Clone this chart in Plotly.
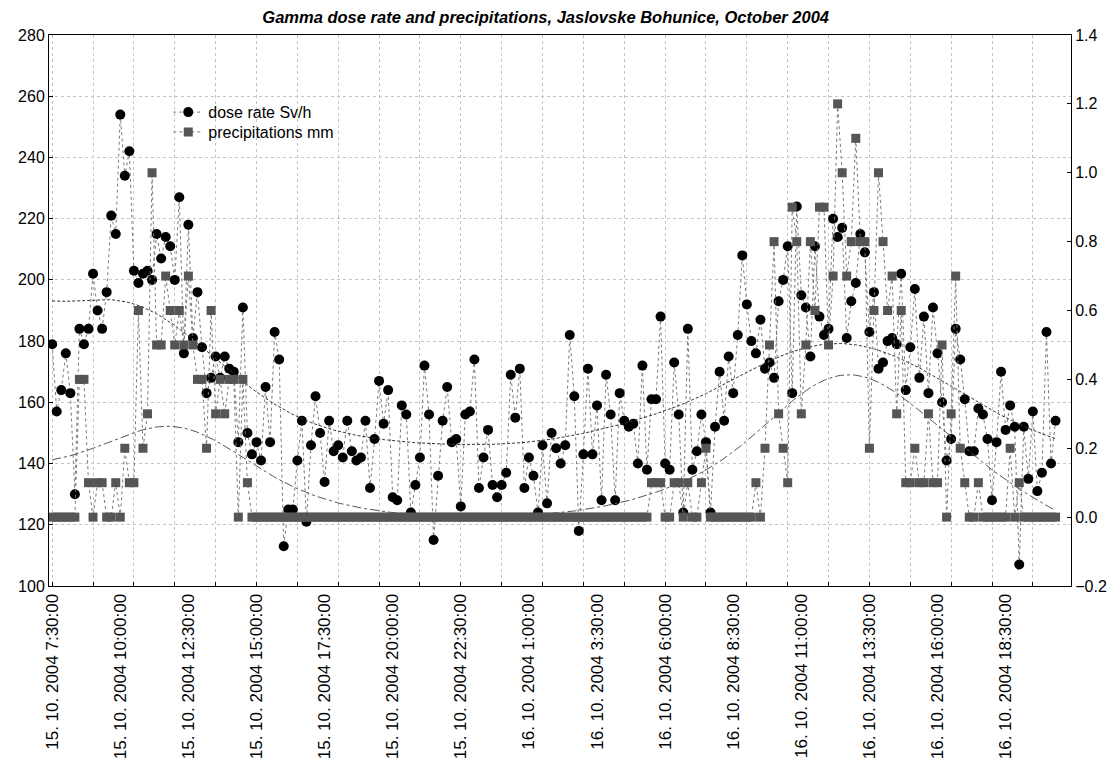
import numpy as np
import pandas as pd
import plotly.graph_objects as go

# ---------------- data (10-minute readings from 15.10.2004 7:30) ----------------
dose = [179,157,164,176,163,130,184,179,184,202,190,184,196,221,215,254,234,242,203,199,
        202,203,200,215,207,214,211,200,227,176,218,181,196,
        178,163,168,175,168,175,171,170,147,191,150,143,147,141,165,147,183,174,113,125,
        125,141,154,121,146,162,150,134,154,144,146,142,154,144,141,142,154,132,
        148,167,153,164,129,128,159,156,124,133,142,172,156,115,136,154,165,147,148,126,
        156,157,174,132,142,151,133,129,133,137,169,155,171,132,142,
        136,124,146,127,150,145,140,146,182,162,118,143,171,143,159,128,169,156,128,163,
        154,152,153,140,172,138,161,161,188,140,138,173,156,124,184,
        138,144,156,147,124,152,170,154,175,163,182,208,192,180,176,187,171,173,168,193,
        200,211,163,224,195,191,175,211,188,182,184,220,214,217,
        181,193,199,215,209,183,196,171,173,180,181,179,202,164,178,197,168,188,163,191,
        176,160,141,148,184,174,161,144,144,158,156,148,128,147,170,151,159,
        152,107,152,135,157,131,137,183,140,154]

precip_a = [0,0,0,0,0,0, 0.4,0.4, 0.1,0,0.1,0.1,0,0,0.1,0,
            0.2,0.1,0.1,0.6,0.2,0.3,1.0,0.5,0.5,0.7,
            0.6,0.5,0.6,0.5,0.7,0.5,0.4,0.4,0.2,0.6,
            0.3,0.4,0.3,0.4,0.4,0.0,0.4,0.1]
precip_b = [0.0] * 88
precip_c = [0.1,0.1,0.1,0,0,0.1,0.1,0,0.1,0,0,0.1,0.2,
            0,0,0,0,0,0,0,0,0,0,
            0.1,0,0.2,0.5,0.8,0.3,0.2,0.1,0.9,0.8,
            0.3,0.5,0.8,0.6,0.9,0.9,0.5,0.7,1.2,1.0,
            0.7,0.8,1.1,0.8,0.8,0.2,0.6,1.0,0.8,0.6,
            0.7,0.3,0.6,
            0.1,0.1,0.2,0.1,0.1,0.3,0.1,0.1,0.5,0.0,
            0.3,0.7,0.2,0.1,0,0,0.1,0,0,0,
            0,0,0,0.2,0,0.1,0,0,0,0,
            0,0,0,0]
precip = precip_a + precip_b + precip_c

start = pd.Timestamp("2004-10-15 07:30:00")
step = pd.Timedelta(minutes=10)
times = pd.date_range(start, periods=len(dose), freq="10min")

label_times = [start + pd.Timedelta(minutes=150) * k for k in range(15)]
label_text = [f"{t.day}. {t.month}. {t.year} {t.hour}:{t.minute:02d}:00" for t in label_times]

title = "Gamma dose rate and precipitations, Jaslovske Bohunice, October 2004"


def dwls(y, xe, scale=20.0):
    """distance-weighted least squares (local quadratic) smoothing of the data"""
    x = np.arange(len(y), dtype=float)
    y = np.asarray(y, float)
    out = []
    for x0 in xe:
        w = 1.0 / (1.0 + ((x - x0) / scale) ** 2)
        c = np.polyfit(x - x0, y, 2, w=np.sqrt(w))
        out.append(c[-1])
    return np.array(out)


fine = np.linspace(0, len(dose) - 1, 300)
fine_t = [start + step * f for f in fine]
dose_fit = dwls(dose, fine)
prec_fit = dwls(precip, fine)

x_range = [start - pd.Timedelta(minutes=7), times[-1] + pd.Timedelta(minutes=34)]

FONT = "Liberation Sans, Arial, sans-serif"
GRID = "#c4c4c4"

fig = go.Figure()
fig.add_trace(go.Scatter(x=times, y=dose, name="dose rate Sv/h", mode="lines+markers",
                         legend="legend",
                         line=dict(color="#7a7a7a", width=1, dash="dot"),
                         marker=dict(symbol="circle", size=10, color="black")))
fig.add_trace(go.Scatter(x=times, y=precip, name="precipitations mm", mode="lines+markers",
                         xaxis="x2", yaxis="y2", legend="legend2",
                         line=dict(color="#7a7a7a", width=1, dash="dot"),
                         marker=dict(symbol="square", size=9, color="#555555")))
fig.add_trace(go.Scatter(x=fine_t, y=dose_fit, mode="lines", showlegend=False, hoverinfo="skip",
                         line=dict(color="#333333", width=1, dash="3px,2px")))
fig.add_trace(go.Scatter(x=fine_t, y=prec_fit, mode="lines", showlegend=False, hoverinfo="skip",
                         xaxis="x2", yaxis="y2",
                         line=dict(color="#555555", width=1, dash="dashdot")))

legend_style = dict(xanchor="left", yanchor="top", bgcolor="rgba(0,0,0,0)",
                    font=dict(family=FONT, size=16, color="black"), itemwidth=30)

fig.update_layout(
    width=1119, height=771,
    margin=dict(l=49, r=42, t=35, b=178, pad=0),
    paper_bgcolor="white", plot_bgcolor="white",
    font=dict(family=FONT, size=16, color="black"),
    title=dict(text=title, x=0.486, xref="paper", y=1 - 17.5 / 771, yref="container",
               yanchor="middle", xanchor="center",
               font=dict(family=FONT, size=16.5, weight="bold", style="italic")),
    showlegend=True,
    legend=dict(x=0.1167, y=0.8907, **legend_style),
    legend2=dict(x=0.1167, y=0.8548, **legend_style),
    xaxis=dict(type="date", range=x_range, tickmode="array", tickvals=label_times,
               ticktext=label_text, tickangle=-90, tickfont=dict(size=17),
               showgrid=False, zeroline=False, showline=True, linecolor="black",
               linewidth=1, mirror=True, ticks=""),
    xaxis2=dict(type="date", overlaying="x", range=x_range, tickmode="linear",
                tick0=start, dtick=5400000, showticklabels=False, showgrid=True,
                gridcolor=GRID, griddash="dot", gridwidth=1, ticks="inside",
                ticklen=4, tickcolor="black", zeroline=False, showline=False),
    yaxis=dict(range=[100, 280], dtick=20, tickfont=dict(size=16), showgrid=True,
               gridcolor=GRID, griddash="dot", zeroline=False, showline=True,
               linecolor="black", linewidth=1, mirror=True, ticks="inside", ticklen=4,
               tickcolor="black"),
    yaxis2=dict(range=[-0.2, 1.4], dtick=0.2, tickformat=".1f", overlaying="y", side="right",
                anchor="x2", tickfont=dict(size=16), showgrid=False, zeroline=False,
                showline=True, linecolor="black", linewidth=1, ticks="inside", ticklen=4,
                tickcolor="black"),
)

fig.write_html("out.html", config={"displayModeBar": False},
               post_script="document.body.style.margin='0';")
